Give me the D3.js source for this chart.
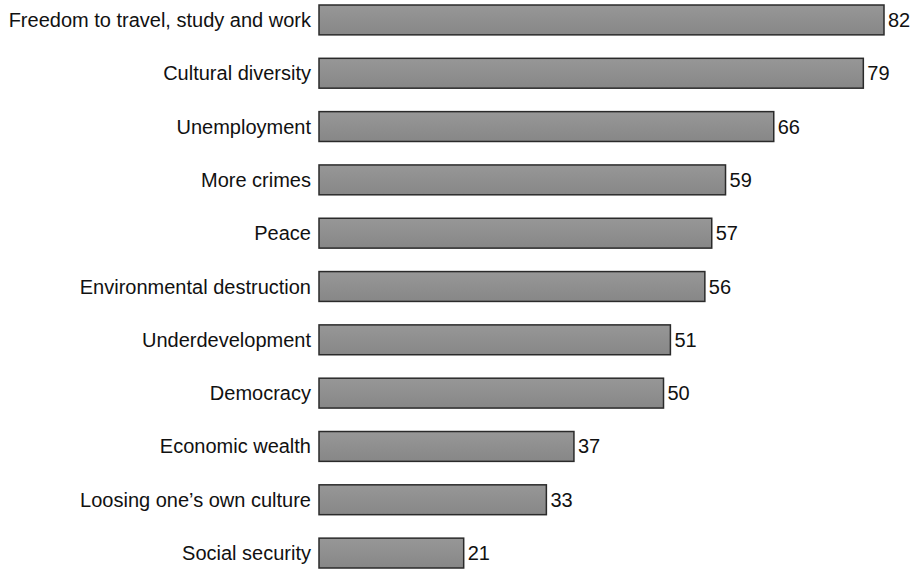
<!DOCTYPE html>
<html>
<head>
<meta charset="utf-8">
<script src="https://cdn.jsdelivr.net/npm/d3@7"></script>
<style>
  body { margin: 0; background: #fff; }
  text { font-family: "Liberation Sans", Arial, sans-serif; font-size: 20px; fill: #111; }
</style>
</head>
<body>
<svg id="chart" width="917" height="570"></svg>
<script>
const categories = [
  "Freedom to travel, study and work",
  "Cultural diversity",
  "Unemployment",
  "More crimes",
  "Peace",
  "Environmental destruction",
  "Underdevelopment",
  "Democracy",
  "Economic wealth",
  "Loosing one\u2019s own culture",
  "Social security"
];
const values = [82, 79, 66, 59, 57, 56, 51, 50, 37, 33, 21];

const svg = d3.select("#chart");

const x = d3.scaleLinear().domain([0, 82]).range([319, 884]);
const y = d3.scaleBand().domain(categories).range([5, 568]).paddingInner(0.44).paddingOuter(0);

const defs = svg.append("defs");
const grad = defs.append("linearGradient").attr("id", "barfill")
  .attr("x1", 0).attr("y1", 0).attr("x2", 0).attr("y2", 1);
grad.append("stop").attr("offset", "0%").attr("stop-color", "#979797");
grad.append("stop").attr("offset", "100%").attr("stop-color", "#878787");

const rows = svg.selectAll("g.row")
  .data(categories.map((c, i) => ({ name: c, value: values[i] })))
  .join("g").attr("class", "row");

rows.append("rect")
  .attr("x", x(0))
  .attr("y", d => y(d.name))
  .attr("width", d => x(d.value) - x(0))
  .attr("height", y.bandwidth())
  .attr("fill", "url(#barfill)")
  .attr("stroke", "#2a2a2a")
  .attr("stroke-width", 1.5);

rows.append("text")
  .attr("x", x(0) - 8)
  .attr("y", d => y(d.name) + y.bandwidth() / 2)
  .attr("dy", "0.35em")
  .attr("text-anchor", "end")
  .text(d => d.name);

rows.append("text")
  .attr("x", d => x(d.value) + 4)
  .attr("y", d => y(d.name) + y.bandwidth() / 2)
  .attr("dy", "0.35em")
  .text(d => d.value);
</script>
</body>
</html>
